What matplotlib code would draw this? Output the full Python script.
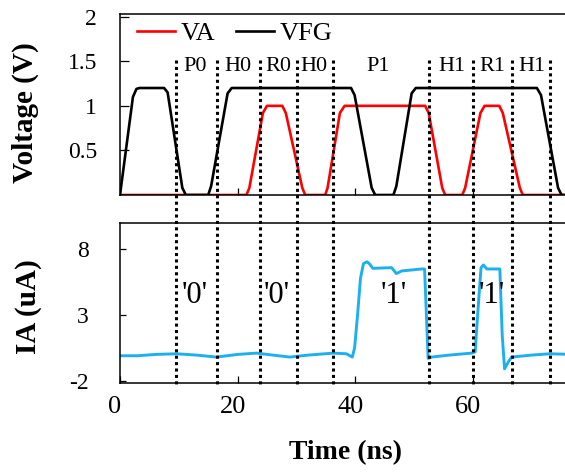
#!/usr/bin/env python3

import matplotlib
matplotlib.use('Agg')
import matplotlib.pyplot as plt
from matplotlib.lines import Line2D
from matplotlib.transforms import blended_transform_factory, ScaledTranslation

# --- data ---
vfg_t = [0, 2.2, 2.8, 3.3, 7.5, 8.1, 10.6, 11.2, 15.0, 15.5, 18.3, 19.0,
         39.3, 39.9, 42.8, 43.4, 46.5, 47.0, 49.6, 50.3, 70.9, 71.6, 74.5, 75.1, 77]
vfg_v = [0, 1.1, 1.19, 1.2, 1.2, 1.15, 0.08, 0, 0, 0.1, 1.14, 1.2,
         1.2, 1.12, 0.08, 0, 0, 0.1, 1.14, 1.2, 1.2, 1.12, 0.08, 0, 0]

va_t = [0, 21.5, 22.0, 24.3, 25.0, 27.6, 28.2, 31.0, 31.5, 34.9, 35.3, 37.4, 38.2,
        51.9, 52.5, 54.8, 55.3, 58.2, 58.7, 61.3, 62.0, 64.5, 65.1, 68.0, 68.5, 77]
va_v = [0, 0, 0.08, 0.92, 1.0, 1.0, 0.92, 0.08, 0, 0, 0.08, 0.92, 1.0,
        1.0, 0.92, 0.08, 0, 0, 0.08, 0.92, 1.0, 1.0, 0.92, 0.08, 0, 0]

ia_t = [0, 3, 6, 9.6, 13, 16.4, 20, 23.2, 26, 28.9, 32, 36.3, 38.5, 39.5,
        39.9, 40.4, 40.9, 41.4, 42.0, 42.4, 43.0, 46.2, 47.0, 47.9, 51.3, 51.8,
        52.4, 53.0, 56, 59.8, 60.4, 60.9, 61.4, 61.8, 62.4, 64.1, 64.6, 65.0,
        65.4, 66.0, 66.6, 70, 73.1, 77]
ia_v = [-0.1, -0.1, 0.0, 0.05, -0.05, -0.2, 0.0, 0.1, -0.05, -0.2, -0.05, 0.1, 0.05, -0.2,
        0.5, 3.0, 5.8, 6.9, 7.05, 6.9, 6.55, 6.6, 6.15, 6.35, 6.5, 6.5,
        -0.3, -0.2, -0.05, 0.1, 0.2, 3.5, 6.6, 6.8, 6.5, 6.5, 6.5, 1.5,
        -1.1, -0.6, -0.2, -0.05, 0.05, 0.0]

phase_x = [9.5, 16.55, 23.8, 30.15, 36.27, 52.55, 60.0, 66.7, 73.1]
phase_names = ['P0', 'H0', 'R0', 'H0', 'P1', 'H1', 'R1', 'H1']
phase_name_x = [12.75, 20.1, 27.0, 32.9, 43.9, 56.4, 63.3, 70.0]
bit_names = ["'0'", "'0'", "'1'", "'1'"]
bit_x = [12.75, 26.6, 46.5, 63.2]

plt.rcParams['font.family'] = ['Liberation Serif', 'DejaVu Serif']
plt.rcParams['axes.unicode_minus'] = False

W, H = 565, 473
figure = plt.figure(figsize=(W / 100, H / 100), dpi=100)

ax_l, ax_w = 120 / W, (77 * 5.88) / W
ax_v = figure.add_axes([ax_l, 1 - 195 / H, ax_w, (195 - 14) / H])
ax_i = figure.add_axes([ax_l, 1 - 382.7 / H, ax_w, (382.7 - 222.7) / H])

ax_v.plot(va_t, va_v, color='#FF0000', lw=1.9, label='VA')
ax_v.plot(vfg_t, vfg_v, color='black', lw=1.9, label='VFG')
ax_i.plot(ia_t, ia_v, color='#1CB0F0', lw=2.1)

for ax in (ax_v, ax_i):
    ax.set_xlim(0, 77)
    for s in ax.spines.values():
        s.set_linewidth(1.1)
    ax.tick_params(axis='x', direction='in', length=5, width=0.9)

ax_v.set_ylim(0, 2.03)
ax_v.set_yticks([0.5, 1, 1.5, 2])
ax_v.set_yticklabels(['0.5', '1', '1.5', '2'])
ax_v.set_xticks([0, 20, 40, 60])
ax_v.tick_params(axis='x', labelbottom=False)
ax_v.tick_params(axis='y', direction='in', length=6.5, width=0.9, labelsize=17, pad=16.5)

ax_i.set_ylim(-2.15, 10.02)
ax_i.set_yticks([-2, 3, 8])
ax_i.set_xticks([0, 20, 40, 60])
ax_i.tick_params(axis='y', direction='in', length=4.5, width=0.9, labelsize=17, pad=22.5)
ax_i.tick_params(axis='x', labelsize=19, pad=9.5)
shift = ScaledTranslation(-0.05, 0, figure.dpi_scale_trans)
for lab in ax_i.get_xticklabels():
    lab.set_transform(lab.get_transform() + shift)

ax_v.legend(loc='center left', bbox_to_anchor=(0.037, 0.895), ncol=2, frameon=False,
            fontsize=19, borderpad=0, borderaxespad=0, handlelength=1.45,
            handletextpad=0.2, columnspacing=0.8)

# dotted phase boundaries crossing both panels
trans = blended_transform_factory(ax_v.transData, figure.transFigure)
for x in phase_x:
    figure.add_artist(Line2D([x, x], [1 - 60 / H, 1 - 384 / H], transform=trans,
                             color='black', lw=2.2, linestyle=(0, (1, 1.1))))

for name, x in zip(phase_names, phase_name_x):
    ax_v.text(x, 1.44, name, ha='center', va='center', fontsize=16)

for name, x in zip(bit_names, bit_x):
    ax_i.text(x, 4.5, name, ha='center', va='center', fontsize=22)

figure.text(25 / W, 1 - 112.5 / H, 'Voltage (V)', rotation=90, ha='center', va='center',
            fontsize=21, fontweight='bold')
figure.text(28 / W, 1 - 306.7 / H, 'IA (uA)', rotation=90, ha='center', va='center',
            fontsize=21, fontweight='bold')
figure.text(345.8 / W, 1 - 453 / H, 'Time (ns)', ha='center', va='center',
            fontsize=20, fontweight='bold')

figure.savefig('out.png', dpi=100)
